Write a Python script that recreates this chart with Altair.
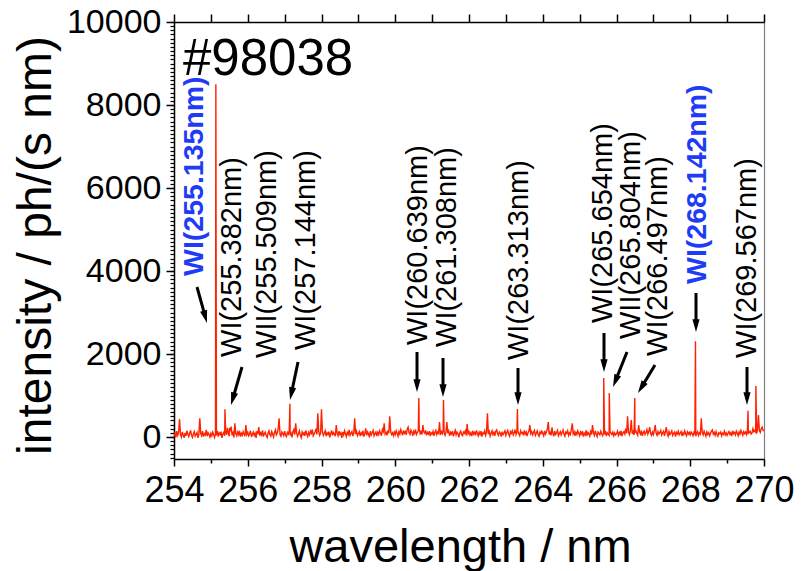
import math
import numpy as np
import pandas as pd
import altair as alt

FONT = "Liberation Sans"
RED = "#ff2200"
BLUE = "#1f3cf5"

X_MIN, X_MAX = 254.0, 270.0
Y_MIN, Y_MAX = -530.0, 10000.0
W, H = 590, 437

# Detector baseline, one value every 0.025 nm from 254.000 nm to 270.000 nm (one row per nm)
STEP = 0.025
baseline = [
    20, 90, -10, 140, 40, 110, 430, 60, 0, 120, 50, -20, 100, 30, 150, 70, 10, 90, 160, 40,
    -10, 80, 130, 20, 60, 110, -20, 70, 450, 90, 30, 140, 10, 80, 50, 170, 20, 100, 60, 0,
    90, 30, 120, 60, -10, 80, 40, 150, 10, 100, 60, 130, -20, 70, 110, 30, 160, 50, 220, 90,
    20, 140, 250, 40, 100, -10, 330, 80, 30, 120, 60, 150, 10, 90, 40, 130, 70, 20, 290, 60,
    110, 30, 80, 150, 0, 60, 120, 40, 90, -20, 140, 70, 240, 30, 100, 50, 160, 10, 80, 120,
    40, -10, 90, 150, 60, 20, 130, 70, 0, 110, 170, 50, 90, 200, 450, 60, 20, 120, 80, 30,
    140, 50, 10, 110, 70, 150, 40, 90, -10, 130, 180, 60, 330, 100, 20, 80, 150, 40, -20, 120,
    60, 100, 30, 160, 70, 10, 110, 50, 140, 90, 180, 30, 80, 120, 200, 60, 570, 130, 40, 90,
    670, 120, 40, 90, 150, 20, 100, 60, 130, -10, 80, 160, 40, 110, 70, 20, 290, 90, 30, 140,
    60, 100, -20, 120, 50, 150, 80, 10, 110, 60, 170, 40, 90, 130, 20, 100, 450, 70, 140, 30,
    80, 130, 20, 100, 60, 150, 10, 90, 210, 40, 120, 70, -10, 140, 50, 100, 160, 30, 80, 120,
    20, 110, 60, 150, 90, 30, 180, 130, 330, 70, 110, 40, 160, 90, 500, 140, 60, 100, 30, 120,
    60, 150, 90, 20, 130, 70, 180, 110, 40, 160, 90, 130, 50, 200, 240, 100, 60, 170, 120, 30,
    140, 90, 180, 60, 110, 150, 200, 80, 130, 60, 290, 120, 90, 160, 40, 110, 70, 140, 20, 100,
    70, 140, 30, 110, 160, 60, 120, 90, 360, 50, 130, 80, 170, 100, 40, 120, 360, 90, 150, 30,
    110, 70, 140, 20, 90, 160, 50, 120, 80, -10, 100, 140, 60, 30, 120, 90, 150, 40, 310, 80,
    130, 50, 100, 20, 150, 70, 110, 40, 160, 90, 30, 120, 60, 140, 10, 100, 80, 150, 40, 110,
    570, 70, 130, 20, 90, 150, 60, 110, 30, 140, 170, 80, 40, 120, 90, 10, 130, 60, 100, 150,
    40, 110, 160, 70, 20, 130, 90, 150, 50, 100, 180, 60, 120, 140, 80, 30, 150, 90, 110, 40,
    160, 70, 120, 20, 100, 140, 290, 80, 130, 50, 110, 160, 40, 90, 150, 60, 20, 120, 80, 140,
    90, 30, 150, 70, 120, 200, 360, 60, 110, 40, 230, 90, 20, 140, 60, 100, 160, 30, 80, 130,
    50, 110, 170, 70, 20, 120, 90, 150, 40, 100, 60, 180, 330, 80, 130, 30, 110, 60, 150, 90,
    30, 120, 70, 140, 10, 90, 50, 160, 30, 110, 80, 20, 130, 60, 290, 100, 40, 150, 70, 10,
    120, 90, 50, 140, 80, 30, 110, 60, 150, 20, 100, 70, 40, 130, 90, 60, 120, 30, 100, 50,
    80, 140, 40, 110, 60, 150, 20, 100, 130, 70, 200, 90, 500, 120, 60, 150, 410, 80, 130, 50,
    110, 150, 90, 40, 290, 120, 70, 160, 30, 100, 140, 60, 110, 180, 70, 130, 240, 90, 40, 120,
    60, 150, 290, 90, 40, 130, 70, 110, 160, 50, 100, 140, 30, 120, 240, 80, 20, 130, 60, 100,
    150, 40, 90, 120, 10, 110, 70, 140, 50, 90, 130, 20, 100, 60, 150, 80, 30, 120, 70, 110,
    50, 120, 80, 30, 110, 60, 20, 90, 130, 40, 100, 70, 450, 110, 50, 140, 80, 20, 120, 60,
    100, 30, 90, 140, 170, 70, 110, 40, 130, 60, 20, 100, 80, 120, 30, 90, 60, 140, 50, 100,
    40, 90, 130, 60, 100, 20, 150, 80, 110, 50, 140, 90, 30, 120, 70, 160, 100, 40, 130, 80,
    120, 60, 150, 90, 110, 140, 70, 100, 200, 130, 160, 120, 90, 180, 530, 150, 110, 200, 240, 160,
    150,
]

# Emission lines on top of the baseline
line_wl = [255.135, 255.382, 255.509, 257.144, 260.639, 261.308, 263.313,
           265.654, 265.804, 266.497, 268.142, 269.567, 269.78]
line_int = [8500, 670, 220, 800, 940, 890, 675,
            1420, 1060, 940, 2310, 630, 1230]

# Line identifications (rotated text, anchored at the lower end)
label_text = ["WI(255.135nm)", "WI(255.382nm)", "WII(255.509nm)", "WI(257.144nm)",
              "WI(260.639nm)", "WI(261.308nm)", "WI(263.313nm)", "WI(265.654nm)",
              "WII(265.804nm)", "WI(266.497nm)", "WI(268.142nm)", "WI(269.567nm)"]
label_wl = [254.542, 255.573, 256.522, 257.580, 260.617, 261.403, 263.356,
            265.634, 266.393, 267.125, 268.183, 269.539]
label_v = [3880, 1928, 1904, 2096, 2217, 2169, 1855, 2747, 2361, 1952, 3687, 1904]
label_strong = [True, False, False, False, False, False, False, False, False, False, True, False]

# Arrows from the labels to the lines (tail -> tip)
arrow_wl0 = [254.624, 255.844, 257.363, 260.590, 261.295, 263.329, 265.661, 266.285, 267.044, 268.156, 269.539]
arrow_v0 = [3614, 1687, 1807, 2048, 1904, 1663, 2506, 2048, 1735, 3470, 1687]
arrow_wl1 = [254.895, 255.546, 257.146, 260.590, 261.295, 263.329, 265.661, 265.905, 266.583, 268.156, 269.539]
arrow_v1 = [2747, 771, 892, 1084, 964, 771, 1566, 1205, 1060, 2530, 771]

# ---- tables ----
grid = np.round(X_MIN + STEP * np.arange(len(baseline)), 3)
spec = pd.DataFrame({
    "wl": np.concatenate([grid, np.array(line_wl)]),
    "v": np.concatenate([np.array(baseline, dtype=float), np.array(line_int, dtype=float)]),
}).sort_values("wl").reset_index(drop=True)

labels = pd.DataFrame({"wl": label_wl, "v": label_v, "text": label_text, "strong": label_strong})

px_nm = W / (X_MAX - X_MIN)
px_unit = H / (Y_MAX - Y_MIN)
HEAD = 256          # arrow-head symbol size
BACK = 6.0          # shaft stops inside the head (pixels)
rows = []
for a0, b0, a1, b1 in zip(arrow_wl0, arrow_v0, arrow_wl1, arrow_v1):
    dx = (a1 - a0) * px_nm
    dy = -(b1 - b0) * px_unit
    L = math.hypot(dx, dy)
    ux, uy = dx / L, dy / L
    ang = math.degrees(math.atan2(dx, -dy)) % 360
    rows.append({
        "wl0": a0, "v0": b0,
        "wl_end": a1 - ux * BACK / px_nm, "v_end": b1 + uy * BACK / px_unit,
        "wl1": a1, "v1": b1, "ang": ang,
    })
arrows = pd.DataFrame(rows)

xs = alt.Scale(domain=[X_MIN, X_MAX], nice=False, zero=False)
ys = alt.Scale(domain=[Y_MIN, Y_MAX], nice=False, zero=False)

axis_common = dict(grid=False, domainColor="black", tickColor="black", labelColor="black",
                   titleColor="black", labelFont=FONT, titleFont=FONT, titleFontWeight="normal")

# Spectrum with the main axes
spectrum = alt.Chart(spec).mark_line(color=RED, strokeWidth=1.4, clip=True).encode(
    x=alt.X("wl:Q", scale=xs, axis=alt.Axis(
        orient="bottom", values=list(range(254, 271, 2)), format="d", tickSize=7, tickWidth=1.5,
        domainWidth=1.5, labelFontSize=36, labelPadding=7, labelFlush=False,
        title="wavelength / nm", titleFontSize=47, titleX=286, titleY=102,
        titleAlign="center", titleBaseline="alphabetic", **axis_common)),
    y=alt.Y("v:Q", scale=ys, axis=alt.Axis(
        orient="left", values=list(range(0, 10001, 2000)), format="d", tickSize=8, tickWidth=1.5,
        domainWidth=1.5, labelFontSize=34, labelPadding=5, labelFlush=False,
        title="intensity / ph/(s nm)", titleFontSize=48, titleAngle=270,
        titleX=-124, titleY=223, titleAlign="center", titleBaseline="alphabetic",
        **axis_common)),
)

# Minor ticks on bottom and left axes
minor = alt.Chart(spec).mark_line(opacity=0).encode(
    x=alt.X("wl:Q", scale=xs, axis=alt.Axis(
        orient="bottom", values=list(range(255, 270, 2)), labels=False, tickSize=4,
        tickWidth=1.5, domain=False, title="", **axis_common)),
    y=alt.Y("v:Q", scale=ys, axis=alt.Axis(
        orient="left", values=list(range(-500, 10001, 100)), labels=False, tickSize=4,
        tickWidth=1.2, domain=False, title="", **axis_common)),
)

# Top axis with ticks, dotted right edge
frame = alt.Chart(spec).mark_line(opacity=0).encode(
    x=alt.X("wl:Q", scale=xs, axis=alt.Axis(
        orient="top", values=list(range(254, 271)), labels=False, tickSize=8,
        tickWidth=1.5, domainWidth=1.5, title="", **axis_common)),
    y=alt.Y("v:Q", scale=ys, axis=alt.Axis(
        orient="right", labels=False, ticks=False, domainWidth=1.2, domainDash=[1, 1],
        title="", **axis_common)),
)

plain = alt.Chart(labels).transform_filter("!datum.strong").mark_text(
    angle=270, align="left", baseline="middle", font=FONT, fontSize=29, color="black"
).encode(
    x=alt.X("wl:Q", scale=xs, axis=None),
    y=alt.Y("v:Q", scale=ys, axis=None),
    text="text:N",
)

strong = alt.Chart(labels).transform_filter("datum.strong").mark_text(
    angle=270, align="left", baseline="middle", font=FONT, fontSize=28.5,
    fontWeight="bold", color=BLUE
).encode(
    x=alt.X("wl:Q", scale=xs, axis=None),
    y=alt.Y("v:Q", scale=ys, axis=None),
    text="text:N",
)

shafts = alt.Chart(arrows).mark_rule(color="black", strokeWidth=3).encode(
    x=alt.X("wl0:Q", scale=xs, axis=None),
    y=alt.Y("v0:Q", scale=ys, axis=None),
    x2="wl_end:Q",
    y2="v_end:Q",
)

heads = alt.Chart(arrows).mark_point(
    shape="M0,0L-0.45,1.6L0.45,1.6Z", filled=True, color="black", opacity=1, size=HEAD,
    strokeWidth=0
).encode(
    x=alt.X("wl1:Q", scale=xs, axis=None),
    y=alt.Y("v1:Q", scale=ys, axis=None),
    angle=alt.Angle("ang:Q", scale=None),
)

shot = alt.Chart(pd.DataFrame({"t": ["#98038"]})).mark_text(
    align="left", baseline="alphabetic", font=FONT, fontSize=51, color="black"
).encode(
    x=alt.value(9),
    y=alt.value(53),
    text="t:N",
)

chart = alt.layer(
    minor, frame, spectrum, plain, strong, shafts, heads, shot
).resolve_axis(x="independent", y="independent").properties(
    width=W, height=H,
    autosize=alt.AutoSizeParams(type="none"),
    padding={"left": 174, "top": 22, "right": 39, "bottom": 112},
    background="white",
).configure_view(strokeWidth=0)

chart.save("out.html", embed_options={"renderer": "svg", "actions": False})
